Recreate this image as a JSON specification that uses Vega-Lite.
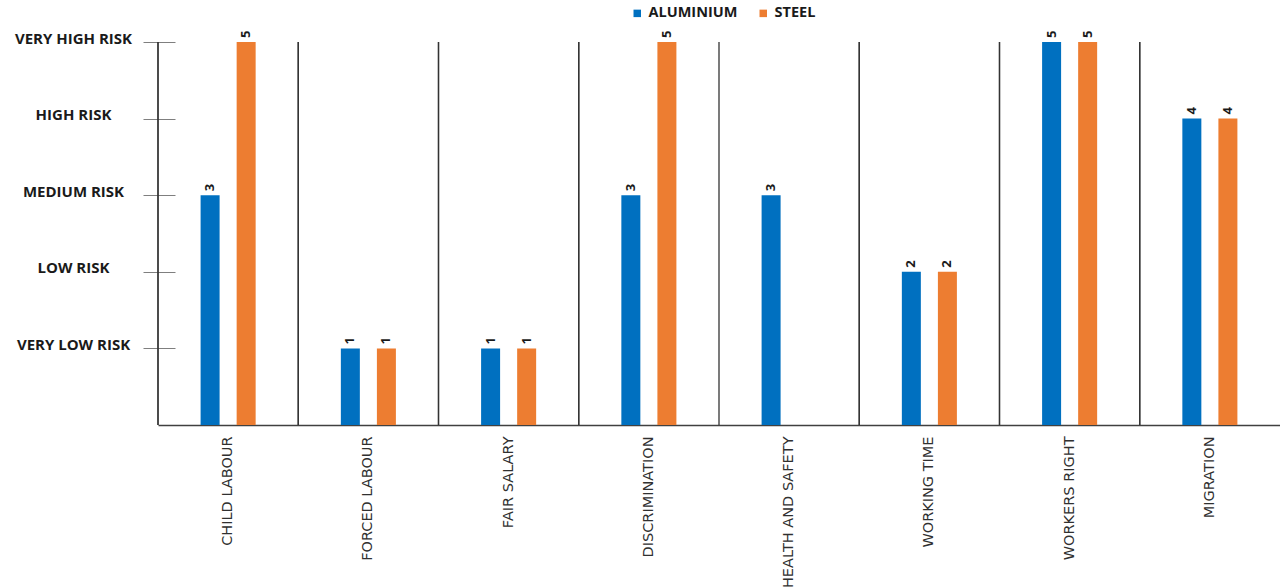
{
  "$schema": "https://vega.github.io/schema/vega-lite/v6.json",
  "width": 1122,
  "height": 383,
  "autosize": {"type": "none"},
  "padding": {"left": 158, "top": 42, "right": 0, "bottom": 162},
  "background": "white",
  "config": {"view": {"stroke": null}, "font": "Open Sans"},
  "data": {
    "values": [
      {"issue": "CHILD LABOUR", "metal": "ALUMINIUM", "risk": 3},
      {"issue": "CHILD LABOUR", "metal": "STEEL", "risk": 5},
      {"issue": "FORCED LABOUR", "metal": "ALUMINIUM", "risk": 1},
      {"issue": "FORCED LABOUR", "metal": "STEEL", "risk": 1},
      {"issue": "FAIR SALARY", "metal": "ALUMINIUM", "risk": 1},
      {"issue": "FAIR SALARY", "metal": "STEEL", "risk": 1},
      {"issue": "DISCRIMINATION", "metal": "ALUMINIUM", "risk": 3},
      {"issue": "DISCRIMINATION", "metal": "STEEL", "risk": 5},
      {"issue": "HEALTH AND SAFETY", "metal": "ALUMINIUM", "risk": 3},
      {"issue": "WORKING TIME", "metal": "ALUMINIUM", "risk": 2},
      {"issue": "WORKING TIME", "metal": "STEEL", "risk": 2},
      {"issue": "WORKERS RIGHT", "metal": "ALUMINIUM", "risk": 5},
      {"issue": "WORKERS RIGHT", "metal": "STEEL", "risk": 5},
      {"issue": "MIGRATION", "metal": "ALUMINIUM", "risk": 4},
      {"issue": "MIGRATION", "metal": "STEEL", "risk": 4}
    ]
  },
  "encoding": {
    "x": {
      "field": "issue",
      "type": "nominal",
      "sort": null,
      "scale": {"paddingInner": 0, "paddingOuter": 0},
      "axis": {
        "title": null,
        "labelAngle": -90,
        "labelFont": "DejaVu Sans",
        "labelFontSize": 14.5,
        "labelColor": "#303030",
        "labelPadding": 11,
        "labelLimit": 300,
        "ticks": false,
        "domainColor": "#404040",
        "domainWidth": 1.5,
        "grid": false
      }
    }
  },
  "layer": [
    {
      "mark": {"type": "rule", "color": "#333333", "strokeWidth": 1.3},
      "encoding": {
        "x": {"field": "issue", "type": "nominal", "sort": null, "bandPosition": 0}
      }
    },
    {
      "mark": {"type": "bar", "width": 19},
      "encoding": {
        "xOffset": {
          "field": "metal",
          "type": "nominal",
          "scale": {"domain": ["ALUMINIUM", "STEEL"], "paddingInner": 0.11, "paddingOuter": 1}
        },
        "y": {
          "field": "risk",
          "type": "quantitative",
          "scale": {"domain": [0, 5], "nice": false},
          "axis": {
            "title": null,
            "values": [1, 2, 3, 4, 5],
            "labelExpr": "['', 'VERY LOW RISK', 'LOW RISK', 'MEDIUM RISK', 'HIGH RISK', 'VERY HIGH RISK'][datum.value]",
            "grid": false,
            "domain": false,
            "offset": -17,
            "tickSize": 32,
            "tickColor": "#7f7f7f",
            "labelAlign": "center",
            "labelPadding": 70,
            "labelOffset": -4,
            "labelFontSize": 15,
            "labelFontWeight": "bold",
            "labelColor": "#1a1a1a"
          }
        },
        "color": {
          "field": "metal",
          "type": "nominal",
          "scale": {"domain": ["ALUMINIUM", "STEEL"], "range": ["#0070C0", "#ED7D31"]},
          "legend": {
            "title": null,
            "orient": "none",
            "direction": "horizontal",
            "legendX": 472,
            "legendY": -36,
            "symbolType": "square",
            "symbolSize": 56,
            "symbolStrokeWidth": 0,
            "labelFontSize": 14.5,
            "labelFontWeight": "bold",
            "labelColor": "#1a1a1a",
            "columnPadding": 18
          }
        }
      }
    },
    {
      "mark": {"type": "text", "angle": 270, "align": "left", "baseline": "middle", "dx": 4, "fontSize": 13, "fontWeight": "bold", "color": "#1a1a1a"},
      "encoding": {
        "xOffset": {
          "field": "metal",
          "type": "nominal",
          "scale": {"domain": ["ALUMINIUM", "STEEL"], "paddingInner": 0.11, "paddingOuter": 1}
        },
        "y": {"field": "risk", "type": "quantitative"},
        "text": {"field": "risk", "type": "quantitative"}
      }
    }
  ]
}
